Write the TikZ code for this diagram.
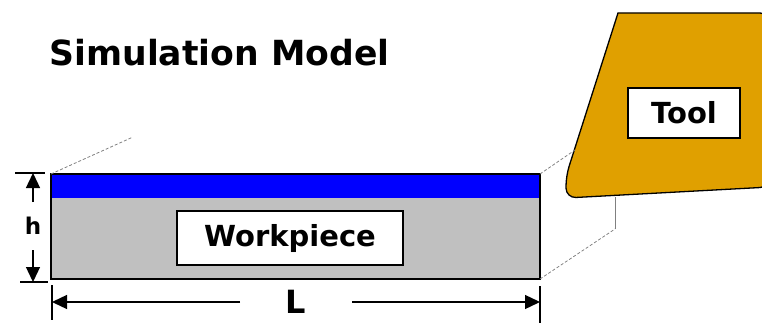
\documentclass[tikz,border=0pt]{standalone}
\usepackage{fontspec}
\setmainfont{DejaVu Sans}
\usetikzlibrary{arrows.meta}

\definecolor{toolorange}{RGB}{224,160,0}
\definecolor{layerblue}{RGB}{0,0,255}
\definecolor{bodygrey}{RGB}{192,192,192}

\tikzset{
  label box/.style={draw=black, fill=white, line width=1.2pt, inner sep=0pt,
                    font=\bfseries\fontsize{29}{30}\selectfont},
  dim/.style={line width=1.3pt, -{Triangle[length=15pt,width=14pt]}},
  tick/.style={line width=1.3pt},
  guide/.style={gray, line width=0.8pt, dash pattern=on 3pt off 2pt},
}

\begin{document}
\begin{tikzpicture}[x=1pt, y=-1pt]
  \useasboundingbox (0,0) rectangle (762,323);

  \node[anchor=west, font=\bfseries\fontsize{34.6}{36}\selectfont] (title) at (46,53) {Simulation Model};

  \coordinate (tl) at (51,174);
  \coordinate (tr) at (540,174);
  \coordinate (br) at (540,279);
  \coordinate (bl) at (51,279);
  \coordinate (ml) at (51,198);
  \coordinate (mr) at (540,198);

  \fill[bodygrey] (ml) rectangle (br);
  \fill[layerblue] (tl) rectangle (mr);
  \draw[line width=1.3pt] (tl) rectangle (br);
  \node[label box, minimum width=226pt, minimum height=54pt] (work) at (290,238) {Workpiece};

  \coordinate (t1) at (618,13);
  \coordinate (t2) at (770,13);
  \coordinate (t3) at (770,187);
  \coordinate (t4) at (566,198);
  \coordinate (t5) at (566,176);
  \draw[line width=1.3pt, fill=toolorange, rounded corners=10pt] (t1) -- (t2) -- (t3) -- (t4) -- (t5) [sharp corners] -- cycle;
  \node[label box, minimum width=112pt, minimum height=50pt] (tool) at (684,113) {Tool};

  \coordinate (g1) at (133,137);
  \coordinate (g2) at (575,150);
  \coordinate (g3) at (615,229);
  \coordinate (g4) at (615,197);
  \draw[guide] (tl) -- (g1);
  \draw[guide] (tr) -- (g2);
  \draw[guide] (br) -- (g3);
  \draw[gray, line width=0.8pt] (g3) -- (g4);

  \coordinate (h1) at (33,173);
  \coordinate (h2) at (33,282);
  \draw[tick] (15,173) -- (45,173);
  \draw[tick] (20,282) -- (48,282);
  \node[font=\bfseries\fontsize{23}{24}\selectfont] (h) at (33,226) {h};
  \draw[dim] (h) ++(0,-24) -- (h1);
  \draw[dim] (h) ++(0,24) -- (h2);

  \coordinate (l1) at (52,302);
  \coordinate (l2) at (540,302);
  \draw[tick] (52,285) -- (52,320);
  \draw[tick] (540,286) -- (540,323);
  \node[font=\bfseries\fontsize{32}{34}\selectfont] (len) at (296,302) {L};
  \draw[dim] (len) ++(-56,0) -- (l1);
  \draw[dim] (len) ++(56,0) -- (l2);
\end{tikzpicture}
\end{document}
